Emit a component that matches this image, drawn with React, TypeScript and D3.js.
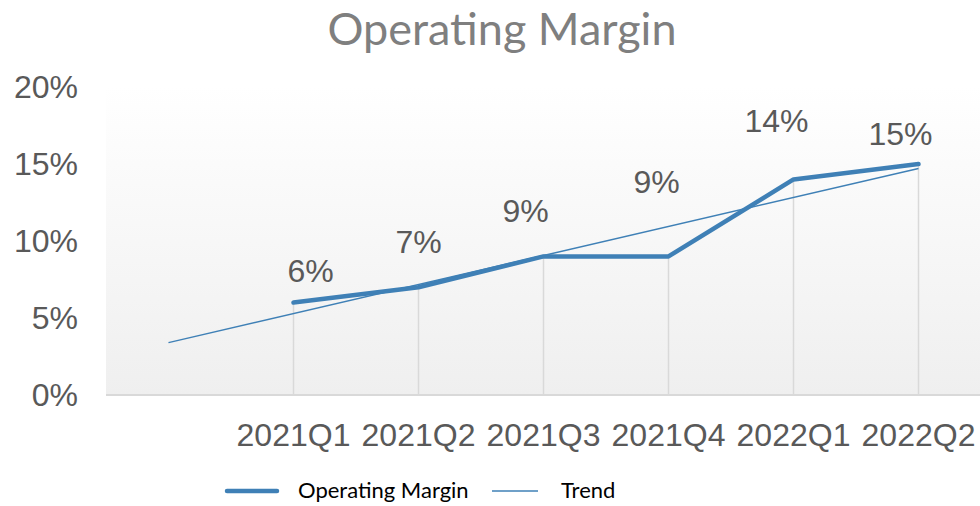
import React from "react";
import * as d3 from "d3";

const categories = ["2021Q1", "2021Q2", "2021Q3", "2021Q4", "2022Q1", "2022Q2"];
const margins = [6, 7, 9, 9, 14, 15];
const yTicks = [0, 5, 10, 15, 20];
const backwardPeriods = 1;

// label offsets (layout, as placed in the original)
const labelDx = [17, 0, -18, -12, -17, -18];
const labelDy = [-21, -34, -34, -63, -47, -19];

const W = 980;
const H = 506;
const plot = { left: 106, right: 981, top: 87, bottom: 395 };
const color = "#3f80b6";

export default function App() {
  const slots = ["__back", ...categories];
  const x = d3.scaleBand<string>().domain(slots).range([plot.left, plot.right]);
  const cx = (c: string) => (x(c) as number) + x.bandwidth() / 2;
  const y = d3.scaleLinear().domain([0, 20]).range([plot.bottom, plot.top]);

  // linear regression trend (Excel-style, with backward forecast)
  const n = margins.length;
  const xs = margins.map((_, i) => i + 1);
  const mx = d3.mean(xs) as number;
  const my = d3.mean(margins) as number;
  const sxy = d3.sum(xs.map((v, i) => (v - mx) * (margins[i] - my)));
  const sxx = d3.sum(xs.map((v) => (v - mx) * (v - mx)));
  const slope = sxy / sxx;
  const icpt = my - slope * mx;
  const t0 = 1 - backwardPeriods;
  const trendPts: [number, number][] = [
    [cx(slots[0]), y(icpt + slope * t0)],
    [cx(slots[n]), y(icpt + slope * n)],
  ];

  const line = d3
    .line<number>()
    .x((_, i) => cx(categories[i]))
    .y((d) => y(d));

  const axisFont = "'Liberation Sans', Arial, sans-serif";
  const calibri = "Lato, 'Open Sans', sans-serif";

  return (
    <svg width={W} height={H} style={{ position: "absolute", left: 0, top: 0, background: "#fff" }}>
      <defs>
        <linearGradient id="bg" x1="0" y1="0" x2="0" y2="1">
          <stop offset="0" stopColor="#ffffff" />
          <stop offset="1" stopColor="#efefef" />
        </linearGradient>
      </defs>
      <rect x={plot.left} y={plot.top} width={plot.right - plot.left} height={plot.bottom - plot.top} fill="url(#bg)" />
      <text x={502} y={45} textAnchor="middle" fontFamily={calibri} fontSize={45} fill="#7f7f7f">
        Operating Margin
      </text>
      {yTicks.map((t) => (
        <text key={t} x={78} y={y(t)} dy="0.35em" textAnchor="end" fontFamily={axisFont} fontSize={32} fill="#595959">
          {t}%
        </text>
      ))}
      {margins.map((v, i) => (
        <line key={i} x1={cx(categories[i])} x2={cx(categories[i])} y1={y(v)} y2={plot.bottom} stroke="#d9d9d9" strokeWidth={1.5} />
      ))}
      <line x1={plot.left} x2={plot.right} y1={plot.bottom} y2={plot.bottom} stroke="#d9d9d9" strokeWidth={2} />
      {categories.map((c) => (
        <text key={c} x={cx(c)} y={446} textAnchor="middle" fontFamily={axisFont} fontSize={32} fill="#595959">
          {c}
        </text>
      ))}
      <path d={line(margins) as string} fill="none" stroke={color} strokeWidth={4.5} strokeLinecap="round" strokeLinejoin="round" />
      <path d={d3.line()(trendPts) as string} fill="none" stroke={color} strokeWidth={1.5} />
      {margins.map((v, i) => (
        <text key={i} x={cx(categories[i]) + labelDx[i]} y={y(v) + labelDy[i]} textAnchor="middle" fontFamily={axisFont} fontSize={32} fill="#595959">
          {v}%
        </text>
      ))}
      <line x1={227} x2={277} y1={491} y2={491} stroke={color} strokeWidth={4.5} strokeLinecap="round" />
      <text x={298} y={498} fontFamily={calibri} fontSize={22} fill="#000">
        Operating Margin
      </text>
      <line x1={492} x2={538} y1={491} y2={491} stroke={color} strokeWidth={1.5} />
      <text x={561} y={498} fontFamily={calibri} fontSize={22} fill="#000">
        Trend
      </text>
    </svg>
  );
}
